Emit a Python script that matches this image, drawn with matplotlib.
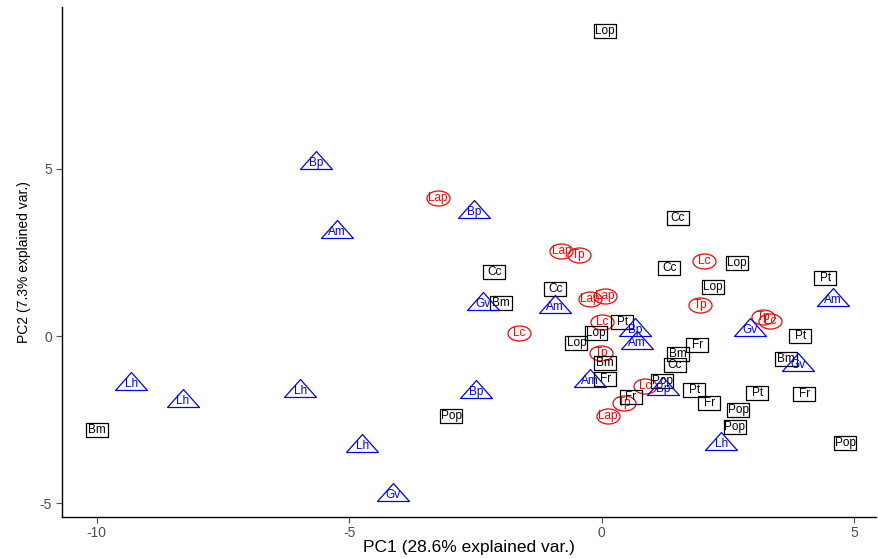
#!/usr/bin/env python3
"""PCA score plot: first two components, samples labelled by taxon and grouped by habitat type."""
import numpy as np
import matplotlib
matplotlib.use("Agg")
import matplotlib.pyplot as plt
from matplotlib.path import Path
from matplotlib.transforms import Affine2D

plt.rcParams["font.family"] = ["Liberation Sans", "DejaVu Sans"]
plt.rcParams["axes.unicode_minus"] = False

# group 1 (black boxes)
sq_x = [0.07, 1.51, -2.13, -0.92, 1.34, 2.68, 2.21, 4.43, -1.99, 0.41,
        -0.11, -0.50, 3.93, 1.89, 1.51, 1.45, 0.07, 0.07, 1.20, 3.65,
        0.58, 1.83, 2.13, 3.08, 4.01, 2.70, 2.64, 4.82, -2.98, -10.0]
sq_y = [9.13, 3.53, 1.92, 1.41, 2.04, 2.18, 1.47, 1.74, 0.99, 0.42,
        0.09, -0.21, 0.0, -0.27, -0.54, -0.87, -0.81, -1.29, -1.35, -0.69,
        -1.83, -1.62, -2.0, -1.71, -1.74, -2.22, -2.72, -3.20, -2.38, -2.82]
sq_lab = ["Lop", "Cc", "Cc", "Cc", "Cc", "Lop", "Lop", "Pt", "Bm", "Pt",
          "Lop", "Lop", "Pt", "Fr", "Bm", "Cc", "Bm", "Fr", "Pop", "Bm",
          "Fr", "Pt", "Fr", "Pt", "Fr", "Pop", "Pop", "Pop", "Pop", "Bm"]

# group 2 (red circles)
ci_x = [-3.25, -0.80, -0.45, -0.23, 0.07, 0.01, -1.63, 2.03, 1.95, 3.20,
        3.34, -0.01, 0.86, 0.45, 0.13]
ci_y = [4.13, 2.54, 2.43, 1.11, 1.20, 0.42, 0.09, 2.25, 0.93, 0.57,
        0.45, -0.51, -1.50, -2.0, -2.40]
ci_lab = ["Lap", "Lap", "Tp", "Lap", "Lap", "Lc", "Lc", "Lc", "Tp", "Tp",
          "Lc", "Tp", "Lc", "Tp", "Lap"]

# group 3 (blue triangles)
tr_x = [-5.65, -5.24, -2.52, -2.35, -0.92, 0.66, 0.70, -0.23, 1.22, 2.94,
        3.89, 4.58, 2.37, -9.32, -8.30, -5.97, -4.74, -4.13, -2.48]
tr_y = [5.18, 3.11, 3.71, 0.96, 0.87, 0.18, -0.21, -1.35, -1.59, 0.18,
        -0.87, 1.08, -3.23, -1.44, -1.95, -1.65, -3.29, -4.76, -1.68]
tr_lab = ["Bp", "Am", "Bp", "Gv", "Am", "Bp", "Am", "Am", "Bp", "Gv",
          "Gv", "Am", "Lh", "Lh", "Lh", "Lh", "Lh", "Gv", "Bp"]

# wide marker shapes (boxes, ellipses, triangles centred on the centroid)
box = Path([(-11, -7), (11, -7), (11, 7), (-11, 7), (-11, -7)], closed=True)
ell = Affine2D().scale(11.5, 7.5).transform_path(Path.unit_circle())
tri = Path([(0, 12), (-16, -6), (16, -6), (0, 12)], closed=True)

fig, ax = plt.subplots(figsize=(8.79, 5.58), dpi=100)
fig.subplots_adjust(left=0.071, right=0.997, top=0.988, bottom=0.073)


def draw_group(xs, ys, labs, marker, size, color, z):
    ax.plot(xs, ys, ls="none", marker=marker, ms=size, mfc="none",
            mec=color, mew=0.9, zorder=z)
    for x, y, t in zip(xs, ys, labs):
        ax.text(x, y, t, color=color, fontsize=8.5, ha="center", va="center",
                zorder=z)


draw_group(ci_x, ci_y, ci_lab, ell, 16.6, "#ff0000", 3)
draw_group(sq_x, sq_y, sq_lab, box, 15.8, "black", 4)
draw_group(tr_x, tr_y, tr_lab, tri, 23, "#0000ff", 5)

ax.set_xlim(-10.68, 5.44)
ax.set_ylim(-5.42, 9.85)
ax.set_xticks([-10, -5, 0, 5])
ax.set_yticks([-5, 0, 5])
ax.set_xlabel("PC1 (28.6% explained var.)", fontsize=12.5, labelpad=0)
ax.set_ylabel("PC2 (7.3% explained var.)", fontsize=10, labelpad=6)
ax.tick_params(colors="#4d4d4d", labelsize=10, length=4, width=0.8)
ax.tick_params(axis="x", pad=2)
for s in ("top", "right"):
    ax.spines[s].set_visible(False)
for s in ("left", "bottom"):
    ax.spines[s].set_linewidth(1.0)

fig.savefig("out.png", dpi=100)
